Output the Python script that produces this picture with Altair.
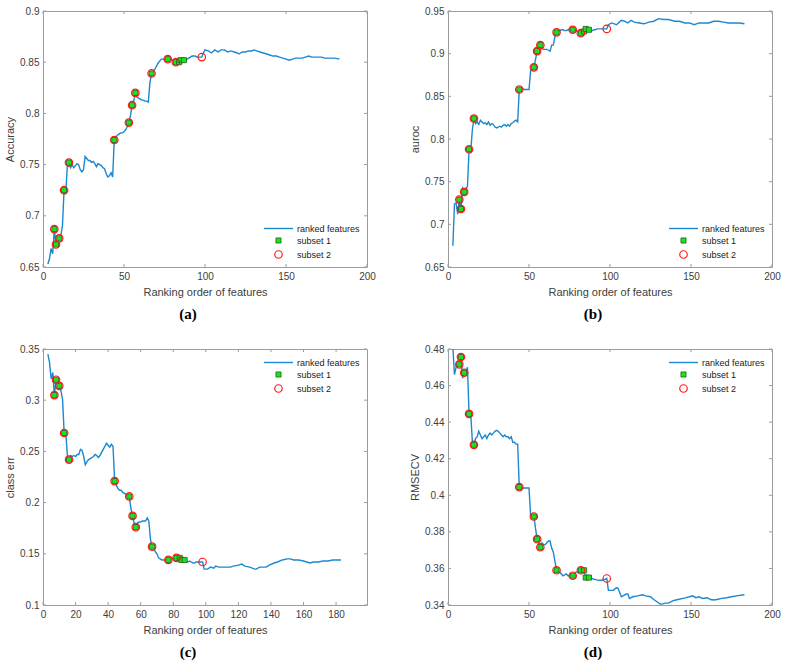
import altair as alt
import pandas as pd

# ---------------- data ----------------
# feature count (ranking order) and cross-validated metric for each panel
acc_x = [3, 4, 5, 6, 7, 8, 9, 10, 11, 12, 13, 14, 15, 16, 17, 18, 19, 20, 21, 22, 23, 24, 25, 26, 27, 28, 29, 30,
         31, 32, 33, 34, 35, 36, 37, 38, 39, 40, 41, 42, 43, 44, 45, 46, 47, 48, 49, 50, 51, 52, 53, 54, 55, 56, 57,
         58, 59, 60, 61, 62, 63, 64, 65, 66, 67, 68, 69, 70, 71, 72, 73, 74, 75, 76, 77, 78, 79, 80, 81, 82, 83, 84,
         85, 86, 87, 88, 89, 90, 91, 92, 93, 94, 95, 96, 97, 98, 99, 100, 102, 104, 106, 108, 110, 112, 114, 116, 118,
         120, 121, 123, 125, 127, 129, 130, 132, 134, 136, 138, 140, 142, 144, 146, 148, 150, 152, 154, 156, 158, 160,
         162, 164, 166, 168, 170, 172, 174, 176, 178, 180, 183]
acc_y = [0.653, 0.658, 0.668, 0.663, 0.687, 0.672, 0.676, 0.678, 0.681, 0.690, 0.725, 0.721, 0.748, 0.752, 0.747,
         0.750, 0.747, 0.749, 0.751, 0.750, 0.745, 0.743, 0.745, 0.758, 0.756, 0.754, 0.754, 0.752, 0.753, 0.751,
         0.748, 0.751, 0.750, 0.749, 0.747, 0.746, 0.741, 0.738, 0.739, 0.742, 0.738, 0.774, 0.777, 0.779, 0.780,
         0.781, 0.781, 0.782, 0.784, 0.787, 0.791, 0.798, 0.808, 0.812, 0.820, 0.816, 0.815, 0.814, 0.813, 0.813,
         0.812, 0.812, 0.811, 0.830, 0.839, 0.841, 0.843, 0.846, 0.849, 0.851, 0.853, 0.853, 0.853, 0.852, 0.853,
         0.853, 0.853, 0.852, 0.851, 0.850, 0.851, 0.850, 0.852, 0.852, 0.852, 0.853, 0.853, 0.854, 0.855, 0.856,
         0.856, 0.856, 0.855, 0.855, 0.855, 0.855, 0.859, 0.862, 0.861, 0.859, 0.862, 0.860, 0.862, 0.862, 0.860,
         0.861, 0.860, 0.859, 0.858, 0.860, 0.860, 0.861, 0.861, 0.862, 0.861, 0.860, 0.859, 0.858, 0.857, 0.856,
         0.856, 0.855, 0.854, 0.853, 0.852, 0.853, 0.854, 0.854, 0.854, 0.855, 0.856, 0.855, 0.855, 0.855, 0.855,
         0.854, 0.854, 0.854, 0.854, 0.853]

auc_x = [3, 4, 5, 6, 7, 8, 9, 10, 11, 12, 13, 14, 15, 16, 17, 18, 19, 20, 21, 22, 23, 24, 25, 26, 27, 28, 29, 30,
         31, 32, 33, 34, 35, 36, 37, 38, 39, 40, 41, 42, 43, 44, 45, 46, 47, 48, 49, 50, 51, 52, 53, 54, 55, 56, 57,
         58, 59, 60, 61, 62, 63, 64, 65, 66, 67, 68, 69, 70, 71, 72, 73, 74, 75, 76, 77, 78, 79, 80, 81, 82, 83, 84,
         85, 86, 87, 88, 89, 90, 91, 92, 93, 94, 95, 96, 97, 98, 99, 101, 104, 107, 109, 111, 113, 115, 118, 121, 124,
         127, 130, 133, 136, 140, 143, 146, 149, 152, 155, 158, 161, 164, 167, 170, 173, 176, 180, 183]
auc_y = [0.675, 0.724, 0.725, 0.712, 0.729, 0.718, 0.742, 0.738, 0.742, 0.744, 0.788, 0.785, 0.810, 0.824, 0.818,
         0.820, 0.817, 0.822, 0.820, 0.818, 0.819, 0.817, 0.820, 0.816, 0.818, 0.817, 0.814, 0.813, 0.814, 0.815,
         0.814, 0.816, 0.817, 0.815, 0.817, 0.815, 0.818, 0.819, 0.821, 0.822, 0.820, 0.858, 0.858, 0.859, 0.858,
         0.858, 0.858, 0.858, 0.880, 0.881, 0.884, 0.893, 0.903, 0.907, 0.910, 0.906, 0.905, 0.905, 0.905, 0.904,
         0.903, 0.910, 0.910, 0.920, 0.925, 0.926, 0.927, 0.928, 0.928, 0.927, 0.927, 0.928, 0.928, 0.928, 0.928,
         0.927, 0.927, 0.926, 0.925, 0.924, 0.925, 0.926, 0.929, 0.929, 0.928, 0.926, 0.927, 0.928, 0.928, 0.929,
         0.929, 0.929, 0.929, 0.929, 0.929, 0.929, 0.934, 0.936, 0.934, 0.939, 0.938, 0.936, 0.939, 0.937, 0.936,
         0.935, 0.937, 0.938, 0.941, 0.940, 0.940, 0.938, 0.938, 0.936, 0.936, 0.934, 0.936, 0.936, 0.936, 0.938,
         0.938, 0.937, 0.936, 0.936, 0.936, 0.935]

err_x = [3, 4, 5, 6, 7, 8, 9, 10, 11, 12, 13, 14, 15, 16, 17, 18, 19, 20, 21, 22, 23, 24, 25, 26, 27, 28, 29, 30,
         31, 32, 33, 34, 35, 36, 37, 38, 39, 40, 41, 42, 43, 44, 45, 46, 47, 48, 49, 50, 51, 52, 53, 54, 55, 56, 57,
         58, 59, 60, 61, 62, 63, 64, 65, 66, 67, 68, 69, 70, 71, 72, 73, 74, 75, 76, 77, 78, 79, 80, 81, 82, 83, 84,
         85, 86, 87, 88, 89, 90, 91, 92, 93, 94, 95, 96, 97, 98, 99, 101, 103, 105, 106, 108, 111, 113, 115, 117, 120,
         122, 124, 127, 130, 131, 133, 135, 137, 139, 142, 144, 147, 150, 152, 154, 157, 160, 162, 164, 166, 169, 172,
         175, 178, 180, 183]
err_y = [0.345, 0.337, 0.321, 0.327, 0.305, 0.320, 0.318, 0.314, 0.309, 0.301, 0.268, 0.268, 0.246, 0.242, 0.246,
         0.245, 0.246, 0.245, 0.247, 0.247, 0.252, 0.251, 0.245, 0.237, 0.240, 0.242, 0.243, 0.244, 0.245, 0.247,
         0.246, 0.244, 0.246, 0.249, 0.252, 0.255, 0.258, 0.256, 0.254, 0.257, 0.255, 0.221, 0.217, 0.214, 0.212,
         0.212, 0.210, 0.209, 0.208, 0.207, 0.206, 0.194, 0.187, 0.180, 0.176, 0.180, 0.181, 0.181, 0.182, 0.182,
         0.182, 0.185, 0.182, 0.164, 0.157, 0.155, 0.152, 0.150, 0.146, 0.145, 0.144, 0.144, 0.144, 0.144, 0.144,
         0.145, 0.145, 0.145, 0.146, 0.146, 0.146, 0.146, 0.144, 0.144, 0.144, 0.143, 0.142, 0.143, 0.142, 0.141,
         0.141, 0.142, 0.142, 0.142, 0.142, 0.142, 0.135, 0.135, 0.137, 0.136, 0.138, 0.137, 0.137, 0.137, 0.137,
         0.138, 0.139, 0.140, 0.138, 0.137, 0.135, 0.135, 0.137, 0.137, 0.137, 0.139, 0.141, 0.142, 0.144, 0.145,
         0.145, 0.144, 0.144, 0.143, 0.142, 0.141, 0.142, 0.142, 0.143, 0.143, 0.144, 0.144, 0.144]

rmse_x = [3, 4, 5, 6, 7, 8, 9, 10, 11, 12, 13, 14, 15, 16, 17, 18, 19, 20, 21, 22, 23, 24, 25, 26, 27, 28, 29, 30,
          31, 32, 33, 34, 35, 36, 37, 38, 39, 40, 41, 42, 43, 44, 45, 46, 47, 48, 49, 50, 51, 52, 53, 54, 55, 56, 57,
          58, 59, 60, 61, 62, 63, 64, 65, 66, 67, 68, 69, 70, 71, 72, 73, 74, 75, 76, 77, 78, 79, 80, 81, 82, 83, 84,
          85, 86, 87, 88, 89, 90, 91, 92, 93, 94, 95, 96, 97, 98, 99, 100, 102, 104, 105, 107, 108, 110, 111, 112, 114,
          117, 120, 122, 125, 127, 129, 131, 132, 134, 136, 139, 142, 145, 147, 149, 151, 153, 155, 157, 160, 162, 164,
          166, 169, 172, 175, 178, 183]
rmse_y = [0.481, 0.466, 0.470, 0.473, 0.4716, 0.4756, 0.464, 0.467, 0.467, 0.470, 0.4445, 0.445, 0.430, 0.4276,
          0.431, 0.432, 0.435, 0.433, 0.431, 0.432, 0.433, 0.431, 0.433, 0.434, 0.433, 0.434, 0.435, 0.4355, 0.435,
          0.434, 0.433, 0.432, 0.433, 0.432, 0.432, 0.431, 0.432, 0.429, 0.429, 0.428, 0.428, 0.4045, 0.404, 0.404,
          0.404, 0.404, 0.404, 0.404, 0.389, 0.389, 0.3884, 0.382, 0.376, 0.374, 0.3716, 0.374, 0.373, 0.373, 0.374,
          0.375, 0.375, 0.371, 0.369, 0.364, 0.359, 0.358, 0.358, 0.357, 0.356, 0.3565, 0.357, 0.356, 0.356, 0.3565,
          0.356, 0.357, 0.358, 0.358, 0.359, 0.359, 0.359, 0.359, 0.355, 0.355, 0.355, 0.3548, 0.3545, 0.354, 0.354,
          0.3537, 0.3535, 0.3535, 0.3535, 0.354, 0.354, 0.3545, 0.348, 0.348, 0.348, 0.3495, 0.349, 0.3445, 0.345,
          0.346, 0.346, 0.3435, 0.3445, 0.345, 0.3456, 0.345, 0.3445, 0.343, 0.3418, 0.3405, 0.3405, 0.341, 0.341,
          0.3424, 0.343, 0.3436, 0.344, 0.3445, 0.345, 0.344, 0.3445, 0.3436, 0.344, 0.343, 0.3427, 0.343, 0.3436,
          0.344, 0.3445, 0.345, 0.3456]

# feature counts that make up the two selected subsets
subset1_idx = [7, 8, 10, 13, 16, 44, 53, 55, 57, 67, 77, 82, 84, 85, 87]
subset2_idx = [7, 8, 10, 13, 16, 44, 53, 55, 57, 67, 77, 82, 98]

SERIES = ["ranked features", "subset 1", "subset 2"]

# ---------------- styling ----------------
FONT = "Liberation Sans"
TEXT = "#404040"
FRAME = "#9c9c9c"
BLUE = "#1b88d0"
W, H = 324, 256
TICK = 3

stroke_scale = alt.Scale(domain=SERIES, range=[BLUE, "#245a24", "#ff1a1a"])
fill_scale = alt.Scale(domain=SERIES, range=["transparent", "#19e619", "transparent"])
shape_scale = alt.Scale(domain=SERIES, range=["stroke", "square", "circle"])
size_scale = alt.Scale(type="ordinal", domain=SERIES, range=[841, 26, 56])
width_scale = alt.Scale(type="ordinal", domain=SERIES, range=[1.4, 0.8, 1.2])


def panel(xs, ys, ytitle, ydom, yticks, xdom, xticks, caption, legend_y):
    lookup = dict(zip(xs, ys))
    line_df = pd.DataFrame({"x": xs, "y": ys, "series": SERIES[0]})
    s1 = pd.DataFrame({"x": subset1_idx, "y": [lookup[i] for i in subset1_idx], "series": SERIES[1]})
    s2 = pd.DataFrame({"x": subset2_idx, "y": [lookup[i] for i in subset2_idx], "series": SERIES[2]})

    xsc = alt.Scale(domain=xdom, nice=False, zero=False)
    ysc = alt.Scale(domain=ydom, nice=False, zero=False)
    xax = alt.Axis(values=xticks, title="Ranking order of features", ticks=False, domain=False, grid=False,
                   format="~f", labelFlush=False, labelPadding=4, titlePadding=5)
    yax = alt.Axis(values=yticks, title=ytitle, ticks=False, domain=False, grid=False,
                   format="~f", labelFlush=False, labelPadding=4, titlePadding=4)
    X = lambda f: alt.X(f, type="quantitative", scale=xsc, axis=xax)
    Y = lambda f: alt.Y(f, type="quantitative", scale=ysc, axis=yax)

    legend = alt.Legend(title=None, orient="none", legendX=220, legendY=legend_y, padding=0,
                        labelFont=FONT, labelFontSize=9, labelColor="#222", labelOffset=3,
                        rowPadding=2)
    stroke = alt.Stroke("series:N", scale=stroke_scale, legend=legend)

    line = alt.Chart(line_df).mark_line(strokeWidth=1.4, clip=True).encode(
        x=X("x"), y=Y("y"), stroke=stroke)

    def pts(df):
        return alt.Chart(df).mark_point(opacity=1, clip=True).encode(
            x=X("x"), y=Y("y"), stroke=stroke,
            shape=alt.Shape("series:N", scale=shape_scale, legend=legend),
            fill=alt.Fill("series:N", scale=fill_scale, legend=legend),
            size=alt.Size("series:N", scale=size_scale, legend=legend),
            strokeWidth=alt.StrokeWidth("series:N", scale=width_scale, legend=legend),
        )

    xt = pd.DataFrame({"v": xticks})
    yt = pd.DataFrame({"v": yticks})
    tick = dict(color=FRAME, strokeWidth=1)
    ticks = [
        alt.Chart(xt).mark_rule(**tick).encode(x=X("v"), y=alt.value(H), y2=alt.value(H - TICK)),
        alt.Chart(xt).mark_rule(**tick).encode(x=X("v"), y=alt.value(0), y2=alt.value(TICK)),
        alt.Chart(yt).mark_rule(**tick).encode(y=Y("v"), x=alt.value(0), x2=alt.value(TICK)),
        alt.Chart(yt).mark_rule(**tick).encode(y=Y("v"), x=alt.value(W), x2=alt.value(W - TICK)),
    ]

    return alt.layer(*ticks, line, pts(s1), pts(s2)).properties(
        width=W, height=H,
        title=alt.TitleParams(caption, orient="bottom", anchor="middle", font="Liberation Serif",
                              fontSize=15, fontWeight="bold", color="black", offset=10, dx=-17),
    )


pa = panel(acc_x, acc_y, "Accuracy", [0.65, 0.9], [0.65, 0.7, 0.75, 0.8, 0.85, 0.9],
           [0, 200], [0, 50, 100, 150, 200], "(a)", 202)
pb = panel(auc_x, auc_y, "auroc", [0.65, 0.95], [0.65, 0.7, 0.75, 0.8, 0.85, 0.9, 0.95],
           [0, 200], [0, 50, 100, 150, 200], "(b)", 202)
pc = panel(err_x, err_y, "class err", [0.1, 0.35], [0.1, 0.15, 0.2, 0.25, 0.3, 0.35],
           [0, 199], [0, 20, 40, 60, 80, 100, 120, 140, 160, 180], "(c)", -2)
pd_ = panel(rmse_x, rmse_y, "RMSECV", [0.34, 0.48], [0.34, 0.36, 0.38, 0.4, 0.42, 0.44, 0.46, 0.48],
            [0, 200], [0, 50, 100, 150, 200], "(d)", -2)

ind = "independent"
chart = alt.ConcatChart(
    concat=[pa, pb, pc, pd_], columns=2, bounds="flush",
    spacing=alt.RowColnumber(row=82, column=81),
).properties(
    padding={"left": 4, "top": 5, "right": 0, "bottom": 0},
    background="white",
).configure_view(
    stroke=FRAME, strokeWidth=1,
).configure_axis(
    labelFont=FONT, labelFontSize=10, labelColor=TEXT,
    titleFont=FONT, titleFontSize=11, titleColor=TEXT, titleFontWeight="normal",
).resolve_scale(
    x=ind, y=ind, stroke=ind, fill=ind, shape=ind, size=ind, strokeWidth=ind,
).resolve_legend(
    stroke=ind, fill=ind, shape=ind, size=ind, strokeWidth=ind,
)

chart.save("out.html", embed_options={"renderer": "svg", "actions": False})
